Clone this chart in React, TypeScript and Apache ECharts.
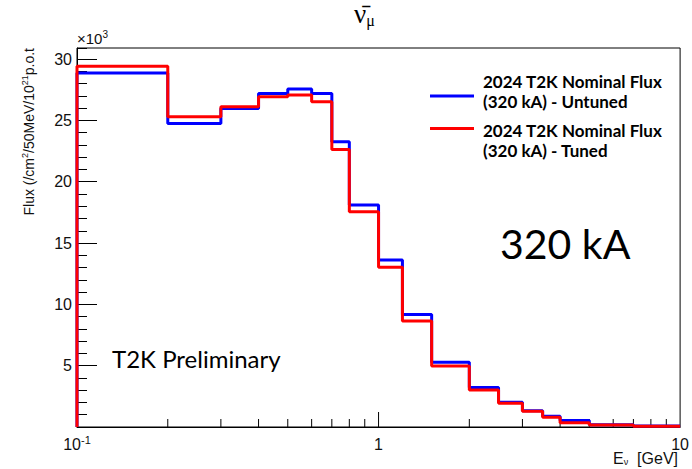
import React, { useEffect, useRef } from "react";
import * as echarts from "echarts";

// Bin edges in GeV
const binEdges = [0.1, 0.2, 0.3, 0.4, 0.5, 0.6, 0.7, 0.8, 1.0, 1.2, 1.5, 2.0, 2.5, 3.0, 3.5, 4.0, 5.0, 7.0, 10.0];
// Flux values (x10^3 /cm^2/50MeV/10^21 p.o.t)
const untunedFlux = [28.87, 24.75, 25.97, 27.19, 27.55, 27.19, 23.25, 18.09, 13.61, 9.18, 5.27, 3.23, 2.01, 1.33, 0.87, 0.52, 0.18, 0.08];
const tunedFlux = [29.42, 25.29, 26.1, 26.92, 27.06, 26.51, 22.63, 17.55, 13.02, 8.64, 4.97, 3.02, 1.93, 1.28, 0.79, 0.35, 0.16, 0.07];
const seriesNames = ["2024 T2K Nominal Flux (320 kA) - Untuned", "2024 T2K Nominal Flux (320 kA) - Tuned"];
// x-axis tick positions (log axis)
const xMinorTicks = [0.2, 0.3, 0.4, 0.5, 0.6, 0.7, 0.8, 0.9, 2, 3, 4, 5, 6, 7, 8, 9];
const xMajorTicks = [1];
const yMax = 30.9;

function stepPoints(edges: number[], vals: number[]) {
  const pts: number[][] = [[edges[0], 0]];
  for (let i = 0; i < vals.length; i++) {
    pts.push([edges[i], vals[i]]);
    pts.push([edges[i + 1], vals[i]]);
  }
  return pts;
}

function splitName(n: string) {
  const i = n.indexOf(" (");
  return [n.slice(0, i), n.slice(i + 1)];
}

export default function App() {
  const ref = useRef<HTMLDivElement>(null);
  useEffect(() => {
    if (!ref.current) return;
    const chart = echarts.init(ref.current, null, { renderer: "svg" });
    const sans = "Liberation Sans";
    const tickData = [
      ...xMinorTicks.map((v) => [v, 0, 0]),
      ...xMajorTicks.map((v) => [v, 0, 1]),
    ];
    const legendRich = {
      t: { fontFamily: "Lato", fontWeight: "bold", fontSize: 17, lineHeight: 20, color: "#000", padding: [0, 0, 0, 4] },
      g: { fontSize: 1, lineHeight: 9, color: "#000" },
      h: { fontSize: 1, lineHeight: 23, color: "#000" },
    };
    chart.setOption({
      animation: false,
      backgroundColor: "#fff",
      grid: {
        left: 77,
        right: 8,
        top: 48,
        bottom: 42,
        show: true,
        borderColor: "#000",
        borderWidth: 1,
        backgroundColor: "transparent",
      },
      legend: [
        {
          data: [seriesNames[0]],
          left: 430,
          top: 73,
          padding: 0,
          icon: "rect",
          itemWidth: 44,
          itemHeight: 3,
          formatter: (n: string) => {
            const [a, b] = splitName(n);
            return "{t|" + a + "}\n{t|" + b + "}\n{g| }";
          },
          textStyle: { rich: legendRich },
        },
        {
          data: [seriesNames[1]],
          left: 430,
          top: 108,
          padding: 0,
          icon: "rect",
          itemWidth: 44,
          itemHeight: 3,
          formatter: (n: string) => {
            const [a, b] = splitName(n);
            return "{h| }\n{t|" + a + "}\n{t|" + b + "}";
          },
          textStyle: { rich: legendRich },
        },
      ],
      xAxis: {
        type: "log",
        logBase: 10,
        min: 0.1,
        max: 10,
        axisLine: { show: true, lineStyle: { color: "#000", width: 1 } },
        axisTick: { show: false },
        splitLine: { show: false },
        axisLabel: {
          margin: 10,
          color: "#111",
          fontFamily: sans,
          fontSize: 16,
          lineHeight: 14,
          formatter: (v: number) => {
            const e = Math.round(Math.log10(v));
            if (e === 0) return "{b|1}";
            if (e === 1) return "{b|10}";
            return "{b|10}{s|" + e + "}";
          },
          rich: {
            b: { fontFamily: sans, fontSize: 16, lineHeight: 14, color: "#111" },
            s: { fontFamily: sans, fontSize: 11, lineHeight: 12, color: "#111", padding: [0, 0, 9, 0] },
          },
        },
      },
      yAxis: [
        {
          type: "value",
          min: 0,
          max: yMax,
          interval: 5,
          axisLine: { show: true, lineStyle: { color: "#000", width: 1 } },
          axisTick: { show: true, inside: true, length: 20, lineStyle: { color: "#000" } },
          splitLine: { show: false },
          axisLabel: {
            margin: 5,
            color: "#111",
            fontFamily: sans,
            fontSize: 16,
            showMaxLabel: false,
            showMinLabel: false,
            formatter: (v: number) => (v % 5 === 0 ? String(v) : ""),
          },
        },
        {
          type: "value",
          min: 0,
          max: yMax,
          interval: 1,
          position: "left",
          axisLine: { show: false },
          axisTick: { show: true, inside: true, length: 10, lineStyle: { color: "#000" } },
          splitLine: { show: false },
          axisLabel: { show: false },
        },
      ],
      series: [
        {
          type: "custom",
          xAxisIndex: 0,
          yAxisIndex: 0,
          silent: true,
          data: tickData,
          renderItem: (params: any, api: any) => {
            const p = api.coord([api.value(0), 0]);
            const len = api.value(2) === 1 ? 15 : 8;
            return {
              type: "line",
              shape: { x1: p[0], y1: p[1], x2: p[0], y2: p[1] - len },
              style: { stroke: "#000", lineWidth: 1 },
            };
          },
        },
        {
          name: seriesNames[0],
          type: "line",
          data: stepPoints(binEdges, untunedFlux),
          showSymbol: false,
          symbol: "none",
          color: "#0000ff",
          lineStyle: { color: "#0000ff", width: 3 },
        },
        {
          name: seriesNames[1],
          type: "line",
          data: stepPoints(binEdges, tunedFlux),
          showSymbol: false,
          symbol: "none",
          color: "#ff0000",
          lineStyle: { color: "#ff0000", width: 3 },
        },
      ],
      graphic: [
        {
          type: "text",
          x: 354,
          y: 14,
          style: {
            text: "{n|ν\u0304}{m|μ}",
            verticalAlign: "middle",
            rich: {
              n: { fontFamily: "Liberation Serif", fontSize: 27, lineHeight: 28, fill: "#000" },
              m: { fontFamily: "Liberation Serif", fontSize: 16, lineHeight: 16, fill: "#000", padding: [12, 0, 0, 0] },
            },
          },
        },
        {
          type: "text",
          x: 77,
          y: 47,
          style: {
            text: "{a|×10}{s|3}",
            verticalAlign: "bottom",
            rich: {
              a: { fontFamily: sans, fontSize: 15, fill: "#111" },
              s: { fontFamily: sans, fontSize: 10, fill: "#111", padding: [0, 0, 8, 0] },
            },
          },
        },
        {
          type: "text",
          x: 29,
          y: 48,
          rotation: Math.PI / 2,
          style: {
            text: "{a|Flux (/cm}{s|2}{a|/50MeV/10}{s|21}{a|p.o.t}",
            align: "right",
            verticalAlign: "middle",
            rich: {
              a: { fontFamily: sans, fontSize: 14, fill: "#111" },
              s: { fontFamily: sans, fontSize: 9, fill: "#111", padding: [0, 0, 8, 0] },
            },
          },
        },
        {
          type: "text",
          x: 678,
          y: 466,
          style: {
            text: "{a|E}{s|ν}{a|  [GeV]}",
            align: "right",
            verticalAlign: "bottom",
            rich: {
              a: { fontFamily: sans, fontSize: 16, lineHeight: 16, fill: "#111" },
              s: { fontFamily: sans, fontSize: 9, lineHeight: 10, fill: "#111", padding: [8, 0, 0, 0] },
            },
          },
        },
        {
          type: "text",
          x: 500,
          y: 243,
          style: {
            text: "320 kA",
            fontFamily: "Lato",
            fontSize: 41,
            fill: "#000",
            verticalAlign: "middle",
          },
        },
        {
          type: "text",
          x: 112,
          y: 358,
          style: {
            text: "T2K Preliminary",
            fontFamily: "Lato",
            fontSize: 24,
            fill: "#000",
            verticalAlign: "middle",
          },
        },
      ],
    });
    return () => chart.dispose();
  }, []);
  return <div ref={ref} style={{ position: "fixed", left: 0, top: 0, width: 692, height: 469 }} />;
}
